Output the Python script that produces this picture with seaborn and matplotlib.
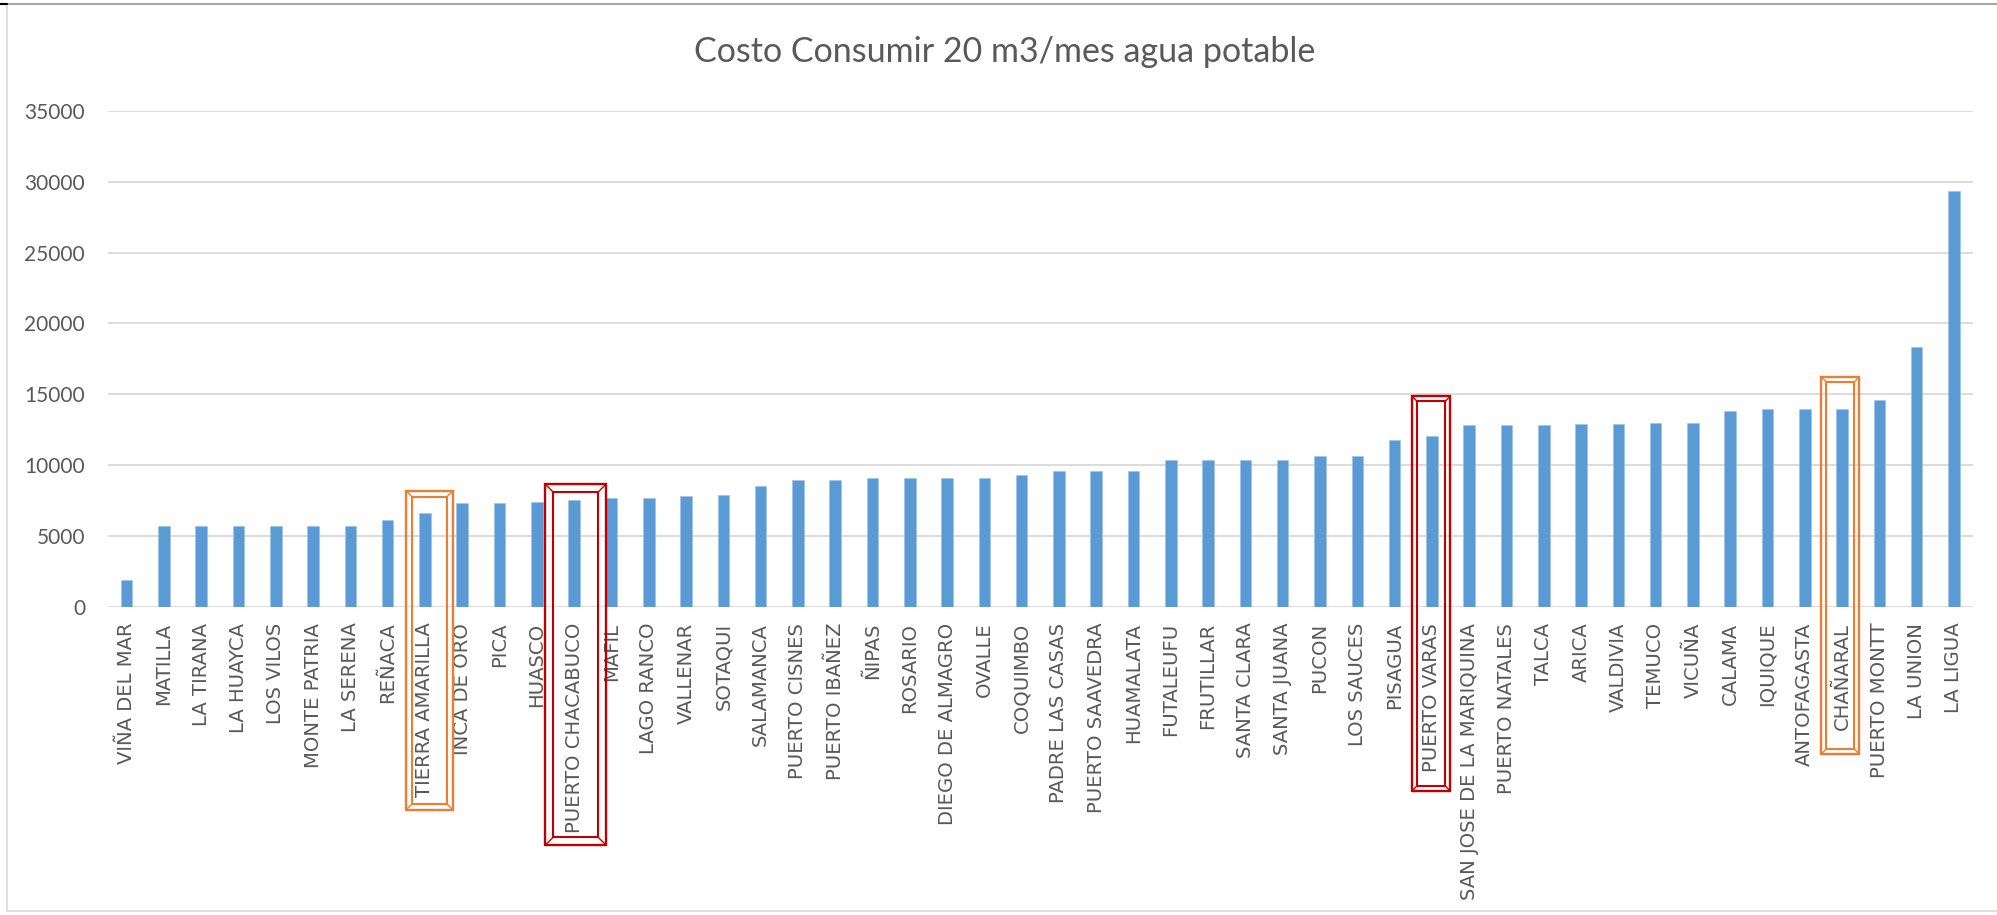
import matplotlib
matplotlib.use("Agg")
import matplotlib.pyplot as plt
from matplotlib.lines import Line2D
import seaborn as sns
import pandas as pd

# Monthly cost (CLP) of consuming 20 m3 of drinking water, by locality
comunas = [
    "VIÑA DEL MAR", "MATILLA", "LA TIRANA", "LA HUAYCA", "LOS VILOS",
    "MONTE PATRIA", "LA SERENA", "REÑACA", "TIERRA AMARILLA", "INCA DE ORO",
    "PICA", "HUASCO", "PUERTO CHACABUCO", "MAFIL", "LAGO RANCO",
    "VALLENAR", "SOTAQUI", "SALAMANCA", "PUERTO CISNES", "PUERTO IBAÑEZ",
    "ÑIPAS", "ROSARIO", "DIEGO DE ALMAGRO", "OVALLE", "COQUIMBO",
    "PADRE LAS CASAS", "PUERTO SAAVEDRA", "HUAMALATA", "FUTALEUFU", "FRUTILLAR",
    "SANTA CLARA", "SANTA JUANA", "PUCON", "LOS SAUCES", "PISAGUA",
    "PUERTO VARAS", "SAN JOSE DE LA MARIQUINA", "PUERTO NATALES", "TALCA", "ARICA",
    "VALDIVIA", "TEMUCO", "VICUÑA", "CALAMA", "IQUIQUE",
    "ANTOFAGASTA", "CHAÑARAL", "PUERTO MONTT", "LA UNION", "LA LIGUA",
]
costo = [
    1880, 5700, 5700, 5700, 5700,
    5700, 5700, 6100, 6610, 7320,
    7320, 7360, 7500, 7670, 7670,
    7840, 7880, 8500, 8920, 8920,
    9080, 9080, 9080, 9080, 9270,
    9600, 9600, 9600, 10350, 10350,
    10350, 10350, 10640, 10640, 11770,
    12070, 12800, 12800, 12800, 12890,
    12890, 12990, 12990, 13790, 13950,
    13950, 13950, 14560, 18350, 29350,
]
y_ticks = [0, 5000, 10000, 15000, 20000, 25000, 30000, 35000]
titulo = "Costo Consumir 20 m3/mes agua potable"

# Highlight frames: locality, colour, upper edge, lower edge (below the axis), width in slots, centre shift
marcos = [
    ("TIERRA AMARILLA", "#ED7D31", 8190, -14350, 1.26, 0.12),
    ("PUERTO CHACABUCO", "#C00000", 8640, -16820, 1.62, 0.04),
    ("PUERTO VARAS", "#C00000", 14850, -13000, 1.02, -0.02),
    ("CHAÑARAL", "#ED7D31", 16230, -10400, 1.02, -0.05),
]

df = pd.DataFrame({"comuna": comunas, "costo": costo})

sns.set_style("white")
plt.rcParams["font.family"] = ["DejaVu Sans"]

W, H = 1997, 915
fig = plt.figure(figsize=(W / 100, H / 100), dpi=100)
ax = fig.add_axes([108 / W, 1 - 606.7 / H, (1972.6 - 108) / W, (606.7 - 111) / H])

sns.barplot(data=df, x="comuna", y="costo", color="#5B9BD5", width=0.31,
            saturation=1, ax=ax, zorder=3)
for p in ax.patches:
    p.set_edgecolor("#9DC3E6")
    p.set_linewidth(0.4)

ax.set_xlim(-0.5, len(comunas) - 0.5)
ax.set_ylim(0, 35000)
ax.set_yticks(y_ticks)
ax.set_yticklabels([str(v) for v in y_ticks], family="Lato", fontsize=15, color="#595959")
ax.yaxis.grid(True, color="#D9D9D9", linewidth=1.3, zorder=0)
ax.set_axisbelow(True)
ax.tick_params(axis="y", length=0, pad=16.5)
ax.tick_params(axis="x", length=0, pad=11.5)
ax.set_xticks(range(len(comunas)))
ax.set_xticklabels(comunas, rotation=90, fontsize=14.1, color="#595959",
                   ha="center", va="top", family="DejaVu Sans")
ax.set_xlabel("")
ax.set_ylabel("")
for s in ax.spines.values():
    s.set_visible(False)

fig.text(1005 / W, 1 - 52 / H, titulo, ha="center", va="center",
         family="Lato", fontsize=24.5, color="#595959")

# Bevel-style frames around selected localities
fig.canvas.draw()
o = ax.transData.transform((0, 0))
px_x = 1.0 / (ax.transData.transform((1, 0))[0] - o[0])
px_y = 1.0 / (ax.transData.transform((0, 1000))[1] - o[1]) * 1000
for nombre, col, top, bot, ancho, shift in marcos:
    c = comunas.index(nombre) + shift
    x0, x1 = c - ancho / 2, c + ancho / 2
    w_px = ancho / px_x
    h_px = (top - bot) / px_y
    d = 0.125 * min(w_px, h_px)
    dx, dy = d * px_x, d * px_y
    kw = dict(color=col, clip_on=False, zorder=5, solid_joinstyle="miter")
    ax.plot([x0, x1, x1, x0, x0], [bot, bot, top, top, bot], lw=1.7, **kw)
    ax.plot([x0 + dx, x1 - dx, x1 - dx, x0 + dx, x0 + dx],
            [bot + dy, bot + dy, top - dy, top - dy, bot + dy], lw=1.5, **kw)
    for (xa, ya, sx, sy) in [(x0, top, 1, -1), (x1, top, -1, -1),
                             (x0, bot, 1, 1), (x1, bot, -1, 1)]:
        ax.plot([xa, xa + sx * dx], [ya, ya + sy * dy], lw=1.0, **kw)

# Chart-area border
fig.add_artist(Line2D([7 / W, 7 / W], [1 - 4 / H, 1 - 911 / H], transform=fig.transFigure,
                      color="#D9D9D9", lw=1.2))
fig.add_artist(Line2D([7 / W, 1], [1 - 911 / H, 1 - 911 / H], transform=fig.transFigure,
                      color="#D9D9D9", lw=1.2))
fig.add_artist(Line2D([0, 1], [1 - 4 / H, 1 - 4 / H], transform=fig.transFigure,
                      color="#A6A6A6", lw=1.5))
fig.add_artist(Line2D([0, 7 / W], [1 - 4 / H, 1 - 4 / H], transform=fig.transFigure,
                      color="#000000", lw=1.5))

fig.savefig("out.png", dpi=100, facecolor="white")
